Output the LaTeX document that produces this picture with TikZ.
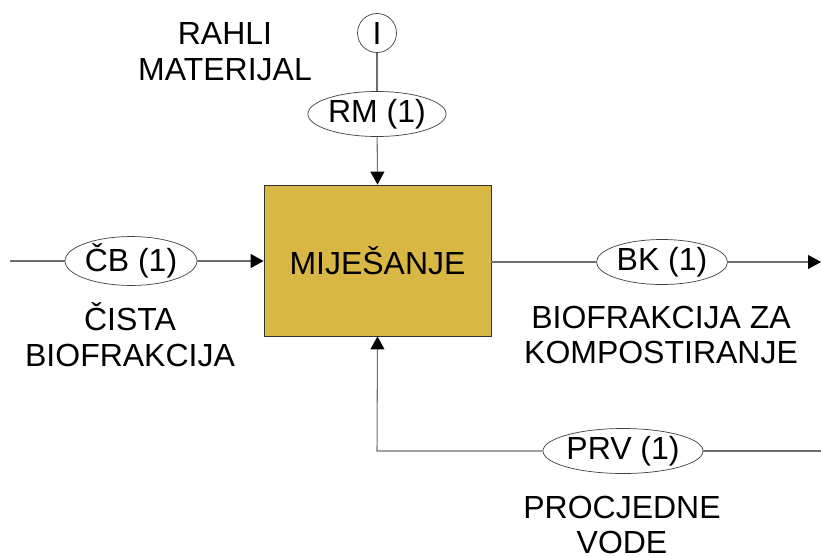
\documentclass[tikz,border=0pt]{standalone}
\usepackage{fontspec}
\setmainfont{Liberation Sans}
\usetikzlibrary{arrows.meta,shapes.geometric,positioning}

\definecolor{mixfill}{RGB}{217,183,69}
\definecolor{flowgray}{RGB}{110,110,110}

\tikzset{
  flow/.style={draw=flowgray, line width=0.9pt},
  flowto/.style={flow, -{Triangle[length=0.39cm,width=0.42cm,black]}},
  tok/.style={ellipse, draw=black!75, line width=0.6pt, fill=white, inner sep=0pt, minimum height=1.35cm},
  lbl/.style={align=center},
}

\begin{document}
\begin{tikzpicture}[x=0.03cm, y=-0.03cm, font=\fontsize{27.3}{30.6}\selectfont]
 \useasboundingbox (0,0) rectangle (821,556);

 % process box
 \node[draw=black!80, line width=0.7pt, fill=mixfill, minimum width=6.81cm, minimum height=4.53cm, inner sep=0pt] (mix) at (377.5,260.5) {MIJEŠANJE};

 % input from top
 \node[circle, draw=black!75, line width=0.6pt, minimum size=1.17cm, inner sep=0pt] (src) at (377,33) {I};
 \node[tok, minimum width=4.11cm] (rm) at (377,114) {RM (1)};
 \draw[flow] (src) -- (rm);
 \draw[flowto] (rm) -- (mix.north);
 \node[lbl] (rahli) at (225,52) {RAHLI\\MATERIJAL};

 % input from left
 \coordinate (cbin) at (10,261);
 \node[tok, minimum width=3.96cm] (cb) at (131,261) {ČB (1)};
 \draw[flow] (cbin) -- (cb);
 \draw[flowto] (cb) -- (cb -| mix.west);
 \node[lbl] (cista) at (130,335) {ČISTA\\BIOFRAKCIJA};

 % output to right
 \coordinate (bkout) at (821,262);
 \node[tok, minimum width=3.93cm] (bk) at (662,262) {BK (1)};
 \draw[flow] (bk -| mix.east) -- (bk);
 \draw[flowto] (bk) -- (bkout);
 \node[lbl] (biokomp) at (661,335) {BIOFRAKCIJA ZA\\KOMPOSTIRANJE};

 % return flow from bottom
 \coordinate (prvin) at (821,451);
 \coordinate (bend) at (377,451);
 \node[tok, minimum width=4.59cm] (prv) at (623,451) {PRV (1)};
 \draw[flow] (prvin) -- (prv);
 \draw[flowto] (prv) -- (bend) -- (mix.south);
 \node[lbl] (procj) at (622,525) {PROCJEDNE\\VODE};
\end{tikzpicture}
\end{document}
